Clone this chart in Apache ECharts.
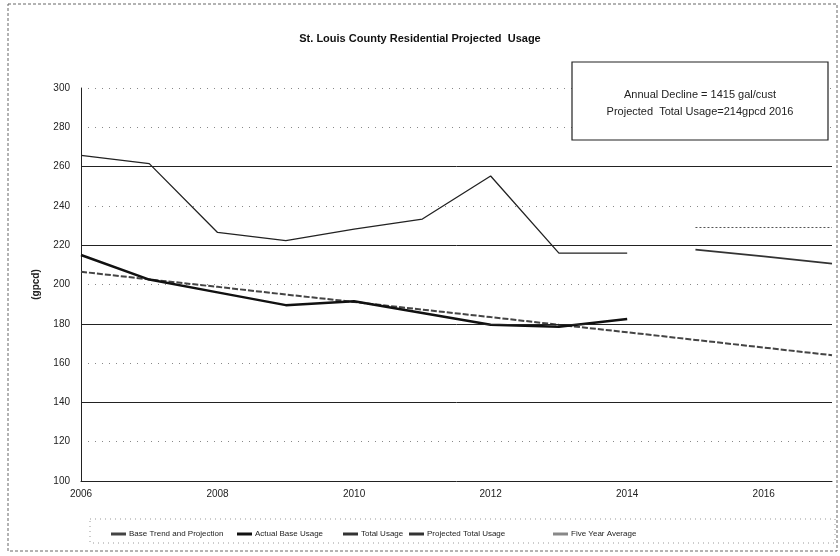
<!DOCTYPE html>
<html><head><meta charset="utf-8">
<script src="https://cdn.jsdelivr.net/npm/echarts@6/dist/echarts.min.js"></script>
<style>html,body{margin:0;padding:0;background:#fff}#c{width:840px;height:556px}</style>
</head><body><div id="c"></div>
<script>
const years = [2006, 2007, 2008, 2009, 2010, 2011, 2012, 2013, 2014, 2015, 2016, 2017];
const baseTrend = [206.5, 202.6, 198.8, 194.9, 191.1, 187.2, 183.4, 179.5, 175.7, 171.8, 167.9, 164.0];
const actualYears = [2006, 2007, 2008, 2009, 2010, 2011, 2012, 2013, 2014];
const actualBase = [215, 202.5, 196, 189.5, 191.5, 185.5, 179.5, 178.5, 182.5];
const totalUsage = [265.7, 261.5, 226.5, 222.3, 228.2, 233.3, 255.2, 216, 216];
const projYears = [2015, 2016, 2017];
const projectedTotal = [217.8, 214.3, 210.6];
const fiveYearAvg = [229, 229, 229];
const xTicks = [2006, 2008, 2010, 2012, 2014, 2016];
const yTicks = [100, 120, 140, 160, 180, 200, 220, 240, 260, 280, 300];
const solidGrid = [140, 180, 220, 260];
const title = 'St. Louis County Residential Projected  Usage';
const noteLines = ['Annual Decline = 1415 gal/cust', 'Projected  Total Usage=214gpcd 2016'];
const names = ['Base Trend and Projection', 'Actual Base Usage', 'Total Usage', 'Projected Total Usage', 'Five Year Average'];
const legendLeft = [106, 232, 338, 404, 548];

const pair = (xs, ys) => xs.map((x, i) => [x, ys[i]]);
const font = 'Liberation Sans, Arial, sans-serif';
const chart = echarts.init(document.getElementById('c'), null, {renderer: 'canvas'});
chart.setOption({
  animation: false,
  backgroundColor: '#fff',
  textStyle: {fontFamily: font},
  title: {text: title, left: 'center', top: 28, textStyle: {fontSize: 11, fontWeight: 'bold', color: '#111', fontFamily: font}},
  grid: {left: 81, right: 8, top: 88, bottom: 75},
  xAxis: {
    type: 'value', min: 2006, max: 2017, interval: 1,
    axisLine: {show: true, lineStyle: {color: '#222', width: 1}},
    axisTick: {show: false},
    splitLine: {show: false},
    axisLabel: {color: '#222', fontSize: 10, margin: 8, showMaxLabel: false,
      formatter: v => xTicks.includes(v) ? String(v) : ''}
  },
  yAxis: {
    type: 'value', min: 100, max: 300, interval: 20,
    name: '(gpcd)', nameLocation: 'middle', nameGap: 40, nameRotate: 90,
    nameTextStyle: {color: '#222', fontSize: 10, fontWeight: 'bold'},
    axisLine: {show: true, lineStyle: {color: '#222', width: 1}},
    axisTick: {show: false},
    splitLine: {show: true, lineStyle: {color: '#888', type: [1, 6], width: 1}},
    axisLabel: {color: '#222', fontSize: 10, margin: 11, formatter: v => yTicks.includes(v) ? String(v) : ''}
  },
  legend: names.map((n, i) => ({
    left: legendLeft[i], top: 525, itemGap: 0, itemWidth: 15, itemHeight: 3, icon: 'rect',
    textStyle: {fontSize: 8, color: '#222', fontFamily: font, padding: [0, 0, 0, -2]},
    data: [n]
  })),
  series: [
    {name: names[0], type: 'line', data: pair(years, baseTrend), showSymbol: false, symbol: 'none',
      itemStyle: {color: '#444'},
      lineStyle: {color: '#444', width: 2, type: [6, 2]}, z: 3,
      markLine: {silent: true, symbol: 'none', label: {show: false},
        lineStyle: {color: '#222', type: 'solid', width: 1},
        data: solidGrid.map(v => ({yAxis: v}))}},
    {name: names[1], type: 'line', data: pair(actualYears, actualBase), showSymbol: false, symbol: 'none',
      itemStyle: {color: '#111'},
      lineStyle: {color: '#111', width: 2.5}, z: 4},
    {name: names[2], type: 'line', data: pair(actualYears, totalUsage), showSymbol: false, symbol: 'none',
      itemStyle: {color: '#333'},
      lineStyle: {color: '#222', width: 1.3}, z: 4},
    {name: names[3], type: 'line', data: pair(projYears, projectedTotal), showSymbol: false, symbol: 'none',
      itemStyle: {color: '#333'},
      lineStyle: {color: '#333', width: 1.8}, z: 4},
    {name: names[4], type: 'line', data: pair(projYears, fiveYearAvg), showSymbol: false, symbol: 'none',
      itemStyle: {color: '#888'},
      lineStyle: {color: '#555', width: 1, type: [2, 2]}, z: 4}
  ],
  graphic: [
    {type: 'rect', shape: {x: 8, y: 4, width: 829, height: 547}, silent: true,
      style: {fill: 'none', stroke: '#666', lineWidth: 1, lineDash: [3, 2]}},
    {type: 'rect', shape: {x: 90, y: 519, width: 745, height: 24}, silent: true,
      style: {fill: 'none', stroke: '#999', lineWidth: 1, lineDash: [1, 4]}},
    {type: 'rect', shape: {x: 572, y: 62, width: 256, height: 78}, z: 100, silent: true,
      style: {fill: '#fff', stroke: '#222', lineWidth: 1.2}},
    {type: 'text', x: 700, y: 95, z: 101, silent: true,
      style: {text: noteLines[0], textAlign: 'center', textVerticalAlign: 'middle', fill: '#222', font: '11px ' + font}},
    {type: 'text', x: 700, y: 112, z: 101, silent: true,
      style: {text: noteLines[1], textAlign: 'center', textVerticalAlign: 'middle', fill: '#222', font: '11px ' + font}}
  ]
});
</script></body></html>
